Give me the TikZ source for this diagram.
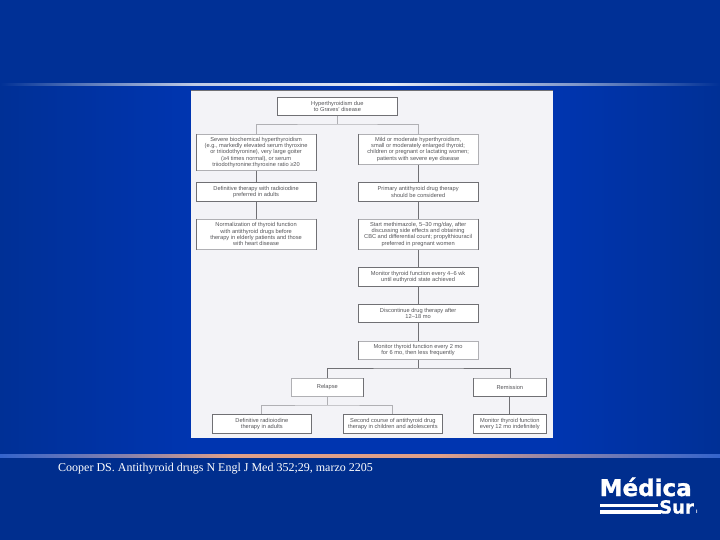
\documentclass[tikz,border=0pt]{standalone}
\usepackage{fontspec}
\setmainfont{Liberation Sans}
\newfontfamily\citefont{Liberation Serif}
\newfontfamily\logofont[BoldFeatures={FakeBold=1.2}]{DejaVu Sans}
\definecolor{bgflat}{HTML}{003096}
\definecolor{bglow}{HTML}{002E8E}
\definecolor{bgmid}{HTML}{0035B0}
\definecolor{panelc}{HTML}{F3F3F7}
\definecolor{linec}{HTML}{707074}
\definecolor{softc}{HTML}{B0B0B4}
\definecolor{textc}{HTML}{555559}
\tikzset{
  x=1pt,y=-1pt,
  fbox/.style={draw=linec,line width=0.7pt,fill=white,font=\fontsize{5.7}{6.3}\selectfont,text=textc,align=center,inner sep=0pt,anchor=north west},
  softbox/.style={fbox,draw=softc},
  wide/.style={minimum width=119.5pt},
  conn/.style={draw=linec,line width=0.7pt},
  connlight/.style={draw=softc,line width=0.8pt},
  connd/.style={draw=linec,line width=1.2pt},
  darkedge/.style={draw=linec,line width=0.7pt},
  logotext/.style={anchor=base west,inner sep=0pt,text=white}
}
\pgfdeclarehorizontalshading{bandshade}{100bp}{color(0bp)=(bgflat);color(25bp)=(bgflat);color(38.2bp)=(bgmid);color(63.4bp)=(bgmid);color(75bp)=(bgflat);color(100bp)=(bgflat)}
\pgfdeclarehorizontalshading{toprule}{100bp}{color(0bp)=(bgflat);color(25bp)=(bgflat);color(30bp)=(bgflat!70!white);color(38.5bp)=(white!75!bgflat);color(52bp)=(white!90!bgflat);color(65bp)=(white!50!bgflat);color(75bp)=(bgflat);color(100bp)=(bgflat)}
\definecolor{salmon}{HTML}{E0A088}
\definecolor{ruleblue}{HTML}{3464CC}
\pgfdeclarehorizontalshading{botrule}{100bp}{color(0bp)=(ruleblue);color(25bp)=(ruleblue);color(34bp)=(salmon!50!ruleblue);color(41bp)=(salmon);color(55.5bp)=(salmon);color(64bp)=(salmon!50!ruleblue);color(75bp)=(ruleblue);color(100bp)=(ruleblue)}
\begin{document}
\begin{tikzpicture}
\useasboundingbox (0,0) rectangle (720,540);
\fill[bgflat] (0,0) rectangle (720,540);
\shade[shading=bandshade] (0,86) rectangle (720,454);
\fill[bglow] (0,457) rectangle (720,540);
\shade[shading=toprule] (0,84) rectangle (720,86);
\shade[shading=botrule] (0,454) rectangle (720,457.5);
\fill[panelc] (191,90) rectangle (553,438);
\draw[linec,line width=0.8pt] (191,90.4) -- (553,90.4);
% nodes
\node[fbox,minimum width=120pt,minimum height=18pt] (top) at (277,97) {Hyperthyroidism due\\to Graves' disease};
\node[softbox,wide,minimum height=36pt] (sev) at (196,134) {Severe biochemical hyperthyroidism\\(e.g., markedly elevated serum thyroxine\\or triiodothyronine), very large goiter\\(≥4 times normal), or serum\\triiodothyronine:thyroxine ratio ≥20};
\node[softbox,wide,minimum height=30pt] (mild) at (358,134) {Mild or moderate hyperthyroidism,\\small or moderately enlarged thyroid;\\children or pregnant or lactating women;\\patients with severe eye disease};
\node[fbox,wide,minimum height=19pt] (def) at (196,182) {Definitive therapy with radioiodine\\preferred in adults};
\node[fbox,wide,minimum height=19pt] (pri) at (358,182) {Primary antithyroid drug therapy\\should be considered};
\node[softbox,wide,minimum height=30pt] (nor) at (196,219) {Normalization of thyroid function\\with antithyroid drugs before\\therapy in elderly patients and those\\with heart disease};
\node[softbox,wide,minimum height=30pt] (sta) at (358,219) {Start methimazole, 5–30 mg/day, after\\discussing side effects and obtaining\\CBC and differential count; propylthiouracil\\preferred in pregnant women};
\node[fbox,wide,minimum height=19pt] (mon) at (358,267) {Monitor thyroid function every 4–6 wk\\until euthyroid state achieved};
\node[fbox,wide,minimum height=18pt] (dis) at (358,304) {Discontinue drug therapy after\\12–18 mo};
\node[softbox,wide,minimum height=18pt] (mtw) at (358,341) {Monitor thyroid function every 2 mo\\for 6 mo, then less frequently};
\node[softbox,minimum width=72pt,minimum height=18pt] (rel) at (291,378) {Relapse};
\node[softbox,minimum width=73pt,minimum height=18pt] (rem) at (473,378) {Remission};
\node[fbox,minimum width=99pt,minimum height=19pt] (dra) at (212,414) {Definitive radioiodine\\therapy in adults};
\node[fbox,minimum width=99pt,minimum height=19pt] (sec) at (343,414) {Second course of antithyroid drug\\therapy in children and adolescents};
\node[fbox,minimum width=73pt,minimum height=19pt] (mti) at (473,414) {Monitor thyroid function\\every 12 mo indefinitely};
% darker sides of the soft boxes
\draw[darkedge] (sev.north west) -- (sev.south west);
\draw[darkedge] (sev.north east) -- (sev.south east);
\draw[darkedge] (mild.north west) -- (mild.south west);
\draw[darkedge] (nor.north west) -- (nor.south west);
\draw[darkedge] (nor.north east) -- (nor.south east);
\draw[darkedge] (sta.north west) -- (sta.south west);
\draw[darkedge] (sta.north east) -- (sta.south east);
\draw[darkedge] (mtw.north west) -- (mtw.south west);
\draw[darkedge] (rel.north east) -- (rel.south east);
\draw[darkedge] (rem.north west) -- (rem.south west);
\draw[darkedge] (rem.north east) -- (rem.south east);
\draw[darkedge] (rem.south west) -- (rem.south east);
% connector junctions
\coordinate (j1) at (top.south |- 0,124);
\coordinate (j2) at (mtw.south |- 0,368);
\coordinate (j3) at (rel.south |- 0,405);
% connectors
\draw[connlight] (top.south) -- (j1);
\draw[connlight] (sev.north) |- (j1) -| (mild.north);
\draw[connd] (sev.south) -- (def.north);
\draw[connd] (def.south) -- (nor.north);
\draw[conn] (mild.south) -- (pri.north);
\draw[conn] (pri.south) -- (sta.north);
\draw[conn] (sta.south) -- (mon.north);
\draw[conn] (mon.south) -- (dis.north);
\draw[conn] (dis.south) -- (mtw.north);
\draw[conn] (mtw.south) -- (j2);
\draw[conn] (rel.north) |- (j2) -| (rem.north);
\draw[connlight] (rel.south) -- (j3);
\draw[connlight] (dra.north) |- (j3) -| (sec.north);
\draw[connd] (rem.south) -- (mti.north);
% citation
\node[anchor=base west,inner sep=0pt,text=white,font=\citefont\fontsize{12}{14}\selectfont] (cite) at (58,471) {Cooper DS. Antithyroid drugs N Engl J Med 352;29, marzo 2205};
% logo
\fill[white] (600,504) rectangle (658,507);
\fill[white] (600,509.5) rectangle (661,513.5);
\node[logotext,font=\logofont\bfseries\fontsize{23}{23}\selectfont] (lg1) at (599.5,496) {Médica};
\node[logotext,font=\logofont\bfseries\fontsize{18}{18}\selectfont] (lg2) at (659,513.5) {Sur};
\node[logotext,font=\bfseries\fontsize{5}{5}\selectfont] (lg3) at (696,513.5) {I};
\end{tikzpicture}
\end{document}
